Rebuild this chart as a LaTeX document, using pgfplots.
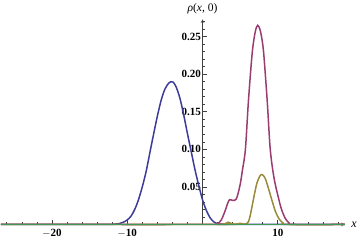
\documentclass[border=0pt]{standalone}
\usepackage{fontspec}
\setmainfont{Liberation Serif}
\usepackage{pgfplots}
\pgfplotsset{compat=1.18}
\definecolor{mblue}{rgb}{0.24,0.24,0.6}
\definecolor{mmag}{rgb}{0.6,0.24,0.442}
\definecolor{myel}{rgb}{0.6,0.547,0.24}
\definecolor{mgreen}{rgb}{0.24,0.6,0.337}
\begin{document}
\begin{tikzpicture}
\begin{axis}[
  scale only axis,
  width=343pt, height=204.5pt,
  axis lines=middle,
  axis line style={black!75, line width=0.6pt},
  xmin=-26.8, xmax=18.9, ymin=0, ymax=0.273,
  xtick={-20,-10,10},
  xticklabels={$-$20,$-$10,10},
  minor xtick={-26,-24,-22,-18,-16,-14,-12,-8,-6,-4,-2,2,4,6,8,12,14,16,18},
  ytick={0.05,0.10,0.15,0.20,0.25},
  yticklabels={0.05,0.10,0.15,0.20,0.25},
  minor ytick={0.01,0.02,0.03,0.04,0.06,0.07,0.08,0.09,0.11,0.12,0.13,0.14,0.16,0.17,0.18,0.19,0.21,0.22,0.23,0.24,0.26,0.27},
  tick align=inside,
  major tick length=4pt, minor tick length=2.3pt,
  tick style={black!75, line width=0.6pt},
  tick label style={font=\fontsize{11}{13}\selectfont\bfseries},
  xticklabel style={yshift=-1pt},
  yticklabel style={xshift=2pt},
  xlabel={\textit{x}},
  ylabel={\textit{ρ}(\textit{x}, 0)},
  every axis x label/.style={at={(ticklabel* cs:1)}, anchor=west, font=\fontsize{12}{14}\selectfont, xshift=3pt},
  every axis y label/.style={at={(ticklabel* cs:1)}, anchor=south, font=\fontsize{11.5}{13}\selectfont, yshift=2pt},
  clip=false,
]
\addplot[mblue, line width=1.5pt, smooth] coordinates {
(-26.8,0) (-13,0) (-12,0.0002) (-11.5,0.0006) (-11,0.0013) (-10.5,0.003) (-10,0.006) (-9.5,0.011) (-9,0.02) (-8.5,0.033)
(-8,0.05) (-7.5,0.07) (-7,0.095) (-6.5,0.12) (-6,0.144) (-5.5,0.165) (-5,0.18) (-4.5,0.188) (-4.2,0.19)
(-3.9,0.1895) (-3.5,0.183) (-3,0.168) (-2.5,0.146) (-2,0.121) (-1.5,0.097) (-1,0.073) (-0.5,0.052)
(0,0.033) (0.5,0.019) (1,0.009) (1.5,0.0035) (2,0.001) (2.5,0.0002) (3,0) (18.9,0)
};
\addplot[mmag, line width=1.5pt, smooth] coordinates {
(-26.8,0) (1.5,0) (2,0.001) (2.5,0.006) (3,0.018) (3.3,0.027) (3.6,0.033) (4.0,0.032) (4.5,0.034)
(5.0,0.053) (5.3,0.072) (5.7,0.10) (6.1,0.164) (6.6,0.228) (7.0,0.256) (7.33,0.265) (7.7,0.257)
(8.1,0.231) (8.6,0.164) (9.0,0.10) (9.5,0.062) (10.1,0.035) (10.5,0.02) (11,0.008) (11.5,0.002) (12,0) (18.9,0)
};
\addplot[myel, line width=1.5pt, smooth] coordinates {
(-26.8,0) (2.5,0) (3,0.001) (3.4,0.003) (3.9,0.001) (4.5,0.0005) (5,0.0015) (5.5,0.0005) (6.0,0.002) (6.3,0.01) (6.76,0.033)
(7.2,0.054) (7.6,0.064) (7.9,0.0665) (8.3,0.062) (8.7,0.05) (9.2,0.033) (9.7,0.017) (10.2,0.007)
(10.7,0.002) (11.2,0) (18.9,0)
};
\addplot[mgreen, line width=1.5pt] coordinates {(-26.8,0) (18.9,0)};
\end{axis}
\end{tikzpicture}
\end{document}
